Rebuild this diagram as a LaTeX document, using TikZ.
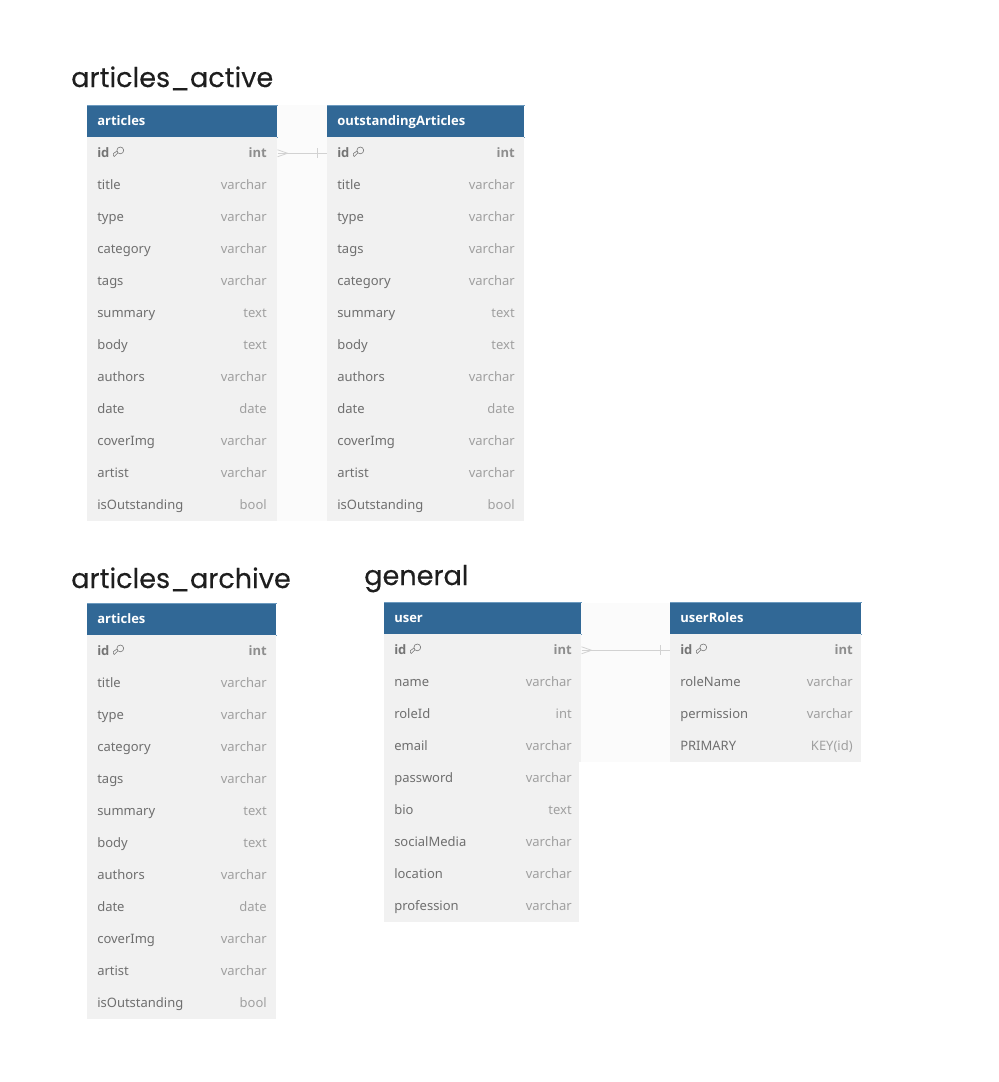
\documentclass[tikz,border=0pt]{standalone}
\usepackage{fontspec}
\setmainfont{Noto Sans}
\newfontfamily\titlefont{Poppins}[FakeBold=0.25]
\newfontfamily\heavyfont{Open Sans}
\usetikzlibrary{calc}
\definecolor{headfill}{HTML}{316896}
\definecolor{headline}{HTML}{6C9ABF}
\definecolor{rowfill}{HTML}{F1F1F1}
\definecolor{bandfill}{HTML}{FBFBFB}
\definecolor{nametext}{HTML}{6F6F6F}
\definecolor{typetext}{HTML}{A0A0A0}
\definecolor{idtext}{HTML}{757575}
\definecolor{idtype}{HTML}{8E8E8E}
\definecolor{linkline}{HTML}{D2D2D2}
\definecolor{titletext}{HTML}{1E1E1E}
\tikzset{
  x=0.75pt,y=-0.75pt,
  band/.style={fill=bandfill,draw=none,inner sep=0pt,anchor=north west},
  header/.style={fill=headfill,draw=none,inner sep=0pt,anchor=north west},
  rowbox/.style={fill=rowfill,draw=none,inner sep=0pt,anchor=north west},
  headtext/.style={anchor=base west,inner sep=0pt,text=white,font=\heavyfont\fontsize{9.75pt}{12pt}\selectfont\bfseries},
  nametxt/.style={anchor=base west,inner sep=0pt,text=nametext,font=\fontsize{9.75pt}{12pt}\selectfont},
  typetxt/.style={anchor=base east,inner sep=0pt,text=typetext,font=\fontsize{9.75pt}{12pt}\selectfont},
  idname/.style={anchor=base west,inner sep=0pt,text=idtext,font=\heavyfont\fontsize{9.75pt}{12pt}\selectfont\bfseries},
  idkind/.style={anchor=base east,inner sep=0pt,text=idtype,font=\heavyfont\fontsize{9.75pt}{12pt}\selectfont\bfseries},
  group/.style={anchor=base west,inner sep=0pt,text=titletext,font=\titlefont\fontsize{20.3pt}{24pt}\selectfont},
  link/.style={draw=linkline,line width=0.6pt},
  keyline/.style={draw=idtext,line width=0.45pt}
}
% #1 prefix, #2 x, #3 top y, #4 header width, #5 body width, #6 right text x, #7 title, #8 rows macro
\newcommand{\dbtable}[8]{%
  \node[header,minimum width=#4*0.75pt,minimum height=24pt] (#1head) at (#2,#3) {};
  \draw[headline,line width=0.6pt] (#1head.north west) -- (#1head.north east) (#1head.south east) -- (#1head.south west);
  \node[headtext] (#1title) at (#2+10,#3+20) {#7};
  \foreach \rname/\rtype [count=\ri from 0] in #8 {
    \pgfmathsetmacro{\ry}{#3+32+32*\ri}
    \pgfmathsetmacro{\rw}{\ry<732 ? #4 : #5}
    \node[rowbox,minimum width=\rw*0.75pt,minimum height=24pt] (#1row\ri) at (#2,\ry) {};
    \ifnum\ri=0
      \node[idname] (#1name\ri) at (#2+10,\ry+20) {\rname};
      \node[idkind] (#1type\ri) at (#6,\ry+20) {\rtype};
      \draw[keyline,shift={(#2+26,\ry+10)}] (7.3,3.4) circle[radius=3.4] (4.9,5.8) -- (1.2,9.5) -- (0.3,8.6) -- (0.3,6.6) -- (3.5,4.4);
    \else
      \node[nametxt] (#1name\ri) at (#2+10,\ry+20) {\rname};
      \node[typetxt] (#1type\ri) at (#6,\ry+20) {\rtype};
    \fi
  }
}
% #1 many-side row, #2 one-side row
\newcommand{\relation}[2]{%
  \draw[link] (#1.east) ++(0,-3.5) -- ++(10,3.5) -- ++(-10,3.5);
  \draw[link] (#1.east) -- (#2.west);
  \draw[link] (#2.west) ++(-10,-5) -- ++(0,10);
}
\newcommand{\articlerows}{id/int,title/varchar,type/varchar,category/varchar,tags/varchar,summary/text,body/text,authors/varchar,date/date,coverImg/varchar,artist/varchar,isOutstanding/bool}
\newcommand{\outstandingrows}{id/int,title/varchar,type/varchar,tags/varchar,category/varchar,summary/text,body/text,authors/varchar,date/date,coverImg/varchar,artist/varchar,isOutstanding/bool}
\newcommand{\userrows}{id/int,name/varchar,roleId/int,email/varchar,password/varchar,bio/text,socialMedia/varchar,location/varchar,profession/varchar}
\newcommand{\rolerows}{id/int,roleName/varchar,permission/varchar,PRIMARY/KEY(id)}
\begin{document}
\begin{tikzpicture}
\useasboundingbox (0,0) rectangle (999,1082);
\fill[white] (0,0) rectangle (999,1082);
\node[band,minimum width=37.5pt,minimum height=312pt] (bandA) at (277,105) {};
\node[band,minimum width=66.75pt,minimum height=119.25pt] (bandB) at (581,603) {};
\node[group] (gactive) at (71,87) {articles\_active};
\node[group] (garchive) at (71,588) {articles\_archive};
\node[group] (ggeneral) at (364,585) {general};
\dbtable{a}{87}{105}{190}{190}{267}{articles}{\articlerows}
\dbtable{o}{327}{105}{197}{197}{515}{outstandingArticles}{\outstandingrows}
\dbtable{r}{87}{603}{189}{189}{267}{articles}{\articlerows}
\dbtable{u}{384}{602}{197}{195}{572}{user}{\userrows}
\dbtable{l}{670}{602}{191}{191}{853}{userRoles}{\rolerows}
\relation{arow0}{orow0}
\relation{urow0}{lrow0}
\end{tikzpicture}
\end{document}
